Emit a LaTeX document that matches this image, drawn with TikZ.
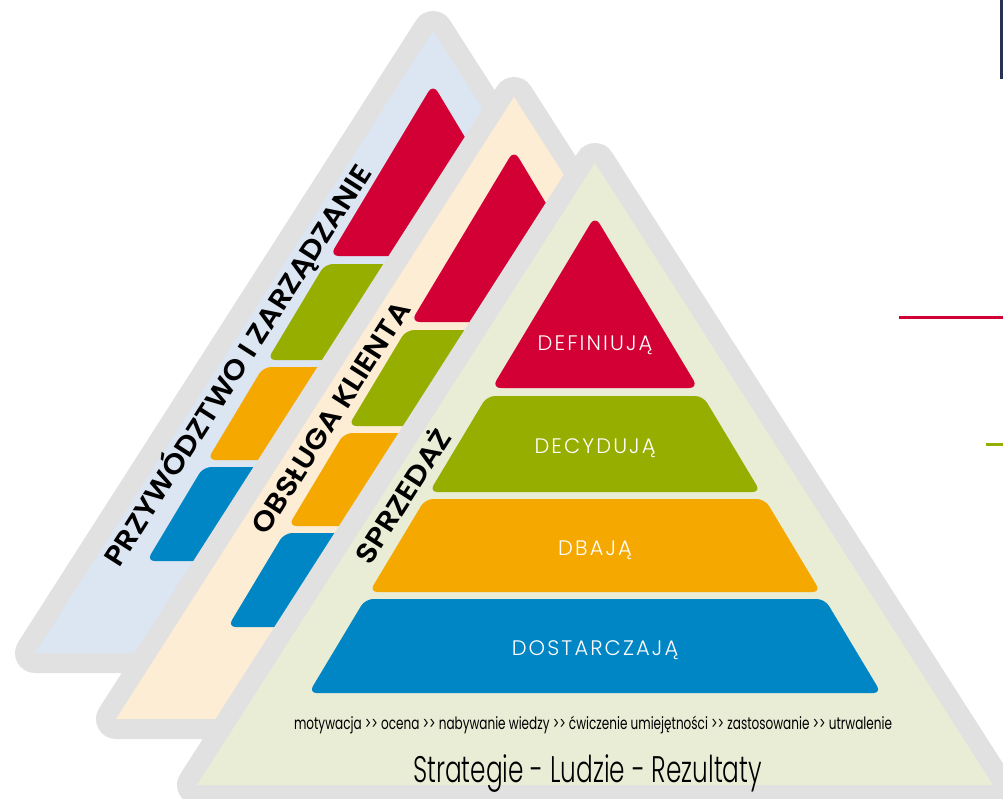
\documentclass[tikz,border=0pt]{standalone}
\usepackage{fontspec}
\usepackage{graphicx}
\IfFontExistsTF{Poppins SemiBold}{\newfontfamily\labelfont{Poppins SemiBold}}{%
  \IfFontExistsTF{Poppins Medium}{\newfontfamily\labelfont{Poppins Medium}}{\newfontfamily\labelfont{Poppins}[FakeBold=1.5]}}
\IfFontExistsTF{Poppins Light}{%
  \newfontfamily\bandfont{Poppins Light}[LetterSpace=10]
  \newfontfamily\basefont{Poppins Light}[RawFeature={-calt}]}{%
  \newfontfamily\bandfont{Poppins}[LetterSpace=10]
  \newfontfamily\basefont{Poppins}[RawFeature={-calt}]}
\newfontfamily\stepfont{Poppins}[RawFeature={-calt}]

\definecolor{pyrred}{RGB}{210,0,52}
\definecolor{pyrgreen}{RGB}{150,174,0}
\definecolor{pyrorange}{RGB}{245,168,0}
\definecolor{pyrblue}{RGB}{0,134,197}
\definecolor{paleblue}{RGB}{220,229,242}
\definecolor{paleorange}{RGB}{254,237,213}
\definecolor{palegreen}{RGB}{233,237,214}
\definecolor{rimgray}{RGB}{225,225,225}
\definecolor{navyline}{RGB}{40,50,80}

\tikzset{
  sidelabel/.style={rotate=57.4, inner sep=0pt, text=black,
    font=\labelfont\fontsize{28}{28}\selectfont},
  bandlabel/.style={anchor=base, inner sep=0pt, text=white,
    font=\bandfont\fontsize{21}{21}\selectfont},
  bandshape/.style={rounded corners=8pt},
}

% One pyramid: apex (#1,#2), background colour #3
\newcommand{\drawpyramid}[3]{%
  \begin{scope}[shift={(#1,#2)}]
    \draw[rimgray, line width=40pt, line join=round]
      (0,0) -- (398,622) -- (-398,622) -- cycle;
    \fill[#3] (0,0) -- (398,622) -- (-398,622) -- cycle;
    \fill[pyrred, rounded corners=9pt]
      (0,53) -- (103.2,225) -- (-103.2,225) -- cycle;
    \fill[pyrgreen, bandshape]
      (-108,233) -- (108,233) -- (165.6,329) -- (-165.6,329) -- cycle;
    \fill[pyrorange, bandshape]
      (-169.8,336) -- (169.8,336) -- (225.6,429) -- (-225.6,429) -- cycle;
    \fill[pyrblue, bandshape]
      (-229.8,436) -- (229.8,436) -- (286.2,530) -- (-286.2,530) -- cycle;
  \end{scope}}

\begin{document}
\begin{tikzpicture}[x=1pt, y=-1pt]
  \useasboundingbox (0,0) rectangle (1003,798);
  \clip (0,0) rectangle (1003,798);
  \fill[white] (0,0) rectangle (1003,798);

  % back pyramid
  \drawpyramid{433}{31}{paleblue}
  \node[sidelabel] (leadership) at (237.5,365)
    {\resizebox{470pt}{\height}{PRZYWÓDZTWO I ZARZĄDZANIE}};

  % middle pyramid
  \drawpyramid{514}{97}{paleorange}
  \node[sidelabel] (service) at (331,417.5)
    {\resizebox{269pt}{\height}{OBSŁUGA KLIENTA}};

  % front pyramid
  \drawpyramid{595}{163}{palegreen}
  \node[sidelabel] (sales) at (401,495)
    {\resizebox{153pt}{\height}{SPRZEDAŻ}};

  \node[bandlabel] (define) at (595,350) {DEFINIUJĄ};
  \node[bandlabel] (decide) at (595,453) {DECYDUJĄ};
  \node[bandlabel] (care) at (595,555) {DBAJĄ};
  \node[bandlabel] (deliver) at (595,655) {DOSTARCZAJĄ};

  \node[anchor=base, inner sep=0pt, font=\stepfont\fontsize{17}{17}\selectfont] (steps) at (593,729)
    {\resizebox{598pt}{\height}{motywacja >{}> ocena >{}> nabywanie wiedzy >{}> ćwiczenie umiejętności >{}> zastosowanie >{}> utrwalenie}};
  \node[anchor=base, inner sep=0pt, font=\basefont\fontsize{37}{37}\selectfont] (motto) at (587.5,782)
    {\resizebox{349pt}{\height}{Strategie - Ludzie - Rezultaty}};

  % edge marks on the right
  \fill[navyline] (1000,0) rectangle (1003,79);
  \fill[pyrred] (899,316) rectangle (1003,319);
  \fill[pyrgreen] (986,443) rectangle (1003,446);
\end{tikzpicture}
\end{document}
